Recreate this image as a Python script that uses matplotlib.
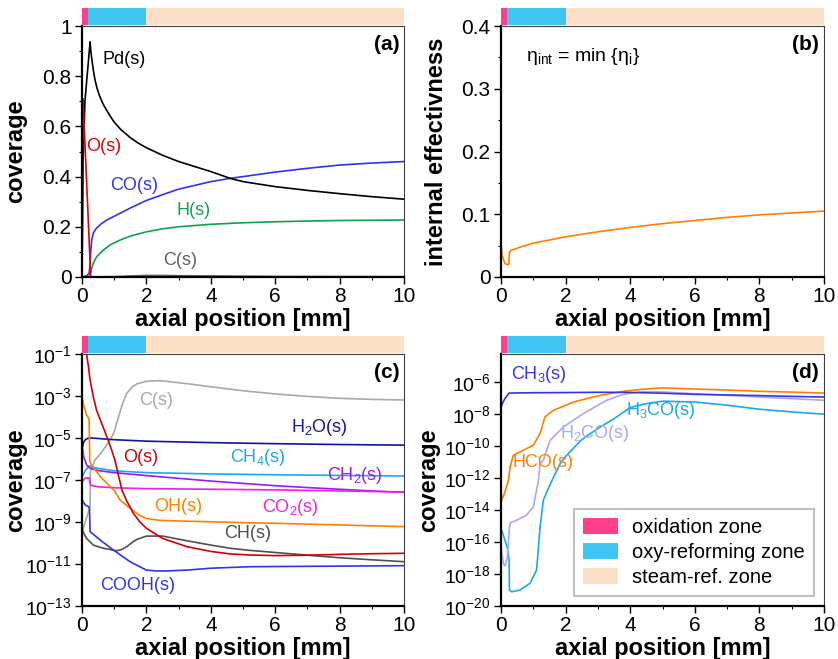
import numpy as np
import matplotlib
matplotlib.use("Agg")
import matplotlib.pyplot as plt
from matplotlib.patches import Patch
from matplotlib.ticker import MultipleLocator, FixedLocator, NullLocator, FuncFormatter

plt.rcParams["font.family"] = ["Liberation Sans", "DejaVu Sans"]
plt.rcParams["mathtext.fontset"] = "custom"
plt.rcParams["mathtext.rm"] = "Liberation Sans"
plt.rcParams["mathtext.it"] = "Liberation Sans"
plt.rcParams["mathtext.bf"] = "Liberation Sans:bold"

# reactor zones along the catalyst bed [mm]
zone_names = ["oxidation zone", "oxy-reforming zone", "steam-ref. zone"]
zone_edges = [0.0, 0.2, 2.0, 10.0]
zone_colors = ["#FF3F8A", "#40C4F2", "#FCE0C8"]

# (a) major surface species, linear coverage
x_pd = [0, 0.03, 0.09, 0.25, 0.27, 0.3, 0.35, 0.4, 0.47, 0.55, 0.65, 0.77, 0.9, 1.0, 1.2, 1.5, 1.75,
        2, 2.5, 3, 3.5, 4, 4.6, 5, 6, 7, 8, 9, 10]
y_pd = [0.0, 0.45, 0.70, 0.937, 0.905, 0.872, 0.825, 0.787, 0.75, 0.72, 0.69, 0.663, 0.636, 0.617,
        0.588, 0.555, 0.533, 0.515, 0.485, 0.46, 0.44, 0.42, 0.393, 0.38, 0.36, 0.345, 0.332,
        0.32, 0.31]
x_o = [0, 0.03, 0.27]
y_o = [0.0, 0.71, 0.0]
x_co = [0, 0.15, 0.22, 0.25, 0.27, 0.3, 0.35, 0.45, 0.6, 0.77, 1, 1.5, 2, 2.5, 3, 4, 4.6, 5, 6, 7, 8, 9, 10]
y_co = [0.0, 0.005, 0.015, 0.05, 0.1, 0.147, 0.175, 0.195, 0.212, 0.227, 0.242, 0.275, 0.305, 0.328,
        0.35, 0.38, 0.393, 0.40, 0.418, 0.433, 0.446, 0.454, 0.46]
x_h = [0, 0.23, 0.3, 0.35, 0.45, 0.66, 0.9, 1.18, 1.5, 2, 2.5, 3, 4, 5, 6, 7, 8, 9, 10]
y_h = [0.0, 0.0, 0.035, 0.055, 0.08, 0.107, 0.13, 0.147, 0.163, 0.18, 0.192, 0.2, 0.21, 0.216, 0.22,
       0.223, 0.225, 0.226, 0.227]
x_c = [0, 1, 1.5, 2, 2.5, 3, 4, 5, 6, 8, 10]
y_c = [0.0, 0.001, 0.004, 0.006, 0.006, 0.005, 0.004, 0.003, 0.002, 0.0015, 0.001]

# (b) internal effectiveness factor
x_eta = [0, 0.03, 0.08, 0.13, 0.2, 0.24, 0.26, 0.3, 0.5, 1, 1.5, 2, 3, 4, 5, 6, 7, 8, 9, 10]
y_eta = [0.054, 0.036, 0.027, 0.021, 0.02, 0.02, 0.039, 0.042, 0.046, 0.054, 0.059, 0.064, 0.072,
         0.079, 0.085, 0.09, 0.095, 0.099, 0.102, 0.105]

# (c) minor species, log10 of coverage
xc_c = [0, 0.1, 0.2, 0.25, 0.26, 0.4, 0.6, 0.87, 1.0, 1.13, 1.26, 1.39, 1.55, 1.7, 2.0, 2.4, 2.8,
        3.35, 4, 5, 6, 7, 8, 9, 10]
lc_c = [-9.5, -9.0, -8.5, -8.2, -6.6, -6.05, -5.7, -5.1, -4.7, -4.0, -3.35, -2.87, -2.58, -2.42,
        -2.3, -2.27, -2.33, -2.43, -2.56, -2.75, -2.9, -3.02, -3.11, -3.16, -3.19]
xc_h2o = [0, 0.05, 0.1, 0.2, 0.3, 1, 2, 4, 6, 8, 10]
lc_h2o = [-5.5, -5.2, -5.08, -5.0, -5.0, -5.08, -5.15, -5.22, -5.27, -5.31, -5.34]
xc_ch4 = [0, 0.1, 0.22, 0.4, 1, 2, 4, 6, 8, 10]
lc_ch4 = [-6.85, -6.55, -6.33, -6.42, -6.56, -6.65, -6.71, -6.75, -6.78, -6.81]
xc_ch2 = [0, 0.05, 0.15, 0.25, 0.5, 1, 2, 3, 4, 5, 6, 7, 8, 9, 10]
lc_ch2 = [-5.3, -5.9, -6.3, -6.44, -6.55, -6.65, -6.79, -6.92, -7.05, -7.16, -7.27, -7.36, -7.44,
          -7.52, -7.59]
xc_co2 = [0, 0.1, 0.22, 0.27, 0.5, 1, 2, 4, 6, 8, 10]
lc_co2 = [-7.1, -6.9, -6.9, -7.25, -7.32, -7.37, -7.41, -7.44, -7.47, -7.52, -7.57]
xc_oh = [0, 0.06, 0.14, 0.22, 0.24, 0.3, 0.57, 1.0, 1.18, 1.5, 1.75, 2.0, 2.4, 3, 4, 5, 6, 8, 10]
lc_oh = [-3.03, -3.5, -3.9, -4.1, -6.1, -6.3, -6.84, -7.5, -7.95, -8.35, -8.65, -8.83, -8.92,
         -8.95, -8.99, -9.03, -9.06, -9.14, -9.22]
xc_o = [0, 0.1, 0.14, 0.2, 0.25, 0.35, 0.45, 0.61, 0.77, 0.92, 1.02, 1.14, 1.24, 1.39, 1.6, 1.8,
        2.0, 2.5, 3.25, 4, 4.6, 5.2, 6, 7, 8, 9, 10]
lc_o = [-0.15, -0.5, -1.0, -1.6, -2.24, -3.03, -3.67, -4.3, -4.94, -5.57, -6.05, -6.84, -7.48,
        -8.0, -8.6, -9.0, -9.3, -9.78, -10.17, -10.4, -10.52, -10.57, -10.6, -10.58, -10.54,
        -10.51, -10.49]
xc_ch = [0, 0.14, 0.35, 0.66, 1.08, 1.25, 1.39, 1.55, 1.7, 2.0, 2.5, 3.25, 4, 4.6, 5.2, 6, 7, 8, 9, 10]
lc_ch = [-9.38, -9.78, -10.1, -10.25, -10.37, -10.3, -10.17, -9.98, -9.83, -9.67, -9.67, -9.89,
         -10.1, -10.25, -10.35, -10.45, -10.58, -10.7, -10.8, -10.89]
xc_cooh = [0, 0.1, 0.2, 0.23, 0.25, 0.6, 0.97, 1.49, 2.0, 2.3, 2.63, 3.25, 4, 5.2, 6, 8, 10]
lc_cooh = [-7.95, -8.19, -8.27, -8.3, -9.46, -9.9, -10.33, -10.89, -11.29, -11.33, -11.33, -11.29,
           -11.2, -11.13, -11.12, -11.1, -11.08]

# (d) CHxO intermediates, log10 of coverage
xd_ch3 = [0, 0.05, 0.12, 0.25, 1, 2, 3, 4, 5, 6, 7, 8, 9, 10]
ld_ch3 = [-7.6, -7.3, -7.04, -6.69, -6.67, -6.66, -6.64, -6.65, -6.7, -6.77, -6.81, -6.85, -6.9, -6.94]
xd_hco = [0, 0.12, 0.23, 0.28, 0.38, 0.69, 1.0, 1.1, 1.21, 1.36, 1.62, 2.24, 3.07, 3.79, 4.4, 5, 6,
          7, 8, 9, 10]
ld_hco = [-13.5, -12.87, -12.14, -11.3, -10.58, -10.26, -9.95, -9.6, -9.22, -8.18, -7.77, -7.25,
          -6.83, -6.58, -6.45, -6.37, -6.44, -6.5, -6.58, -6.63, -6.69]
xd_h2co = [0, 0.07, 0.12, 0.2, 0.26, 0.29, 0.49, 0.79, 1.0, 1.16, 1.21, 1.31, 1.52, 1.93, 2.55, 3.27,
           3.79, 4.4, 5, 6, 7, 8, 9, 10]
ld_h2co = [-16.3, -17.34, -17.5, -16.92, -15.05, -14.8, -14.63, -14.32, -13.8, -12.14, -11.1,
           -10.89, -9.64, -8.81, -7.97, -7.14, -6.77, -6.6, -6.62, -6.73, -6.83, -6.94, -7.04, -7.14]
xd_h3co = [0, 0.12, 0.2, 0.25, 0.26, 0.33, 0.59, 0.9, 1.1, 1.21, 1.31, 1.52, 1.83, 2.0, 2.5, 3, 3.5,
           4, 4.5, 5, 6, 7, 8, 9, 10]
ld_h3co = [-15.15, -15.88, -16.4, -17.1, -19.0, -19.11, -19.0, -18.58, -17.75, -15.05, -13.38,
           -12.4, -11.1, -10.65, -9.6, -8.9, -8.29, -7.6, -7.35, -7.2, -7.25, -7.45, -7.7, -7.87, -8.01]

BLACK = "#000000"
RED = "#E00000"
BLUE = "#3333EE"
GREEN = "#10A050"
ORANGE = "#FF8000"

fig = plt.figure(figsize=(8.38, 6.59), dpi=100)


def add_zone_bar(ax):
    pos = ax.get_position()
    bar = fig.add_axes([pos.x0, pos.y1 + 0.0015, pos.width, 0.026])
    for lo, hi, col in zip(zone_edges[:-1], zone_edges[1:], zone_colors):
        bar.axvspan(lo, hi, color=col, lw=0)
    bar.set_xlim(0, 10)
    bar.set_ylim(0, 1)
    bar.axis("off")


def style(ax, ylabel, label_x, letter):
    ax.set_xlim(0, 10)
    ax.xaxis.set_major_locator(MultipleLocator(2))
    ax.xaxis.set_minor_locator(MultipleLocator(1))
    for side in ("left", "bottom"):
        ax.spines[side].set_linewidth(1.6)
    for side in ("top", "right"):
        ax.spines[side].set_linewidth(0.8)
        ax.spines[side].set_color("#404040")
    ax.tick_params(which="major", length=5, width=1.0, labelsize=15, pad=2.5)
    ax.tick_params(which="minor", length=2.5, width=0.8)
    ax.set_xlabel("axial position [mm]", fontsize=17, fontweight="bold", labelpad=1)
    ax.set_ylabel(ylabel, fontsize=17, fontweight="bold")
    ax.yaxis.set_label_coords(label_x, 0.5)
    ax.text(0.985, 0.925, letter, transform=ax.transAxes, ha="right", va="center",
            fontsize=15, fontweight="bold")
    add_zone_bar(ax)


def log_axis(ax, lo, hi, top):
    ax.set_yscale("log")
    ax.set_ylim(10.0 ** lo, 10.0 ** top)
    ax.yaxis.set_major_locator(FixedLocator([10.0 ** e for e in range(lo, hi + 1, 2)]))
    ax.yaxis.set_minor_locator(NullLocator())
    ax.yaxis.set_major_formatter(FuncFormatter(lambda v, p: "$10^{%d}$" % round(np.log10(v))))


def tag(ax, x, y, s, color):
    ax.text(x, y, s, color=color, fontsize=13, va="center", ha="left")


# (a)
ax_a = fig.add_axes([0.0979, 0.5797, 0.3843, 0.3808])
ax_a.plot(x_c, y_c, color="#606060", lw=1.2)
ax_a.plot(x_h, y_h, color=GREEN, lw=1.2)
ax_a.plot(x_co, y_co, color=BLUE, lw=1.2)
ax_a.plot(x_pd, y_pd, color=BLACK, lw=1.2)
ax_a.plot(x_o, y_o, color=RED, lw=1.2)
ax_a.set_ylim(0, 1)
ax_a.yaxis.set_major_locator(MultipleLocator(0.2))
ax_a.yaxis.set_minor_locator(MultipleLocator(0.1))
ax_a.yaxis.set_major_formatter(FuncFormatter(lambda v, p: "%g" % round(v, 1)))
tag(ax_a, 0.62, 0.865, "Pd(s)", BLACK)
tag(ax_a, 0.13, 0.52, "O(s)", RED)
tag(ax_a, 0.86, 0.363, "CO(s)", BLUE)
tag(ax_a, 2.92, 0.264, "H(s)", GREEN)
tag(ax_a, 2.53, 0.065, "C(s)", "#606060")
style(ax_a, "coverage", -0.172, "(a)")

# (b)
ax_b = fig.add_axes([0.5979, 0.5797, 0.3854, 0.3808])
ax_b.plot(x_eta, y_eta, color=ORANGE, lw=1.2)
ax_b.set_ylim(0, 0.4)
ax_b.yaxis.set_major_locator(MultipleLocator(0.1))
ax_b.yaxis.set_minor_locator(MultipleLocator(0.05))
ax_b.yaxis.set_major_formatter(FuncFormatter(lambda v, p: "%g" % round(v, 1)))
ax_b.text(0.78, 0.351, "η$_{\\rm int}$ = min {η$_{\\rm i}$}", fontsize=14, va="center")
style(ax_b, "internal effectivness", -0.165, "(b)")

# (c)
ax_c = fig.add_axes([0.0979, 0.0804, 0.3843, 0.3824])
c_lines = [
    (xc_c, lc_c, "#A8A8A8"),
    (xc_h2o, lc_h2o, "#1414A0"),
    (xc_ch4, lc_ch4, "#1AA8F5"),
    (xc_ch2, lc_ch2, "#9A1AF0"),
    (xc_co2, lc_co2, "#F01EE6"),
    (xc_oh, lc_oh, ORANGE),
    (xc_ch, lc_ch, "#505050"),
    (xc_cooh, lc_cooh, BLUE),
    (xc_o, lc_o, "#D40000"),
]
for xs, ls, col in c_lines:
    ax_c.plot(xs, 10.0 ** np.array(ls), color=col, lw=1.2)
log_axis(ax_c, -13, -1, -1)
tag(ax_c, 1.76, 10 ** -3.19, "C(s)", "#A8A8A8")
tag(ax_c, 6.5, 10 ** -4.49, "H$_2$O(s)", "#1414A0")
tag(ax_c, 1.29, 10 ** -5.94, "O(s)", "#D40000")
tag(ax_c, 4.58, 10 ** -5.94, "CH$_4$(s)", "#1AA8F5")
tag(ax_c, 7.62, 10 ** -6.79, "CH$_2$(s)", "#9A1AF0")
tag(ax_c, 2.24, 10 ** -8.27, "OH(s)", ORANGE)
tag(ax_c, 5.6, 10 ** -8.32, "CO$_2$(s)", "#F01EE6")
tag(ax_c, 4.41, 10 ** -9.57, "CH(s)", "#505050")
tag(ax_c, 0.55, 10 ** -12.0, "COOH(s)", BLUE)
style(ax_c, "coverage", -0.172, "(c)")
ax_c.tick_params(axis="y", labelsize=14)

# (d)
ax_d = fig.add_axes([0.5979, 0.0804, 0.3854, 0.3824])
d_lines = [
    (xd_h3co, ld_h3co, "#1AA8F0"),
    (xd_h2co, ld_h2co, "#A8A8F8"),
    (xd_hco, ld_hco, ORANGE),
    (xd_ch3, ld_ch3, BLUE),
]
for xs, ls, col in d_lines:
    ax_d.plot(xs, 10.0 ** np.array(ls), color=col, lw=1.2)
log_axis(ax_d, -20, -6, -4.25)
tag(ax_d, 0.32, 10 ** -5.54, "CH$_3$(s)", BLUE)
tag(ax_d, 3.87, 10 ** -7.77, "H$_3$CO(s)", "#1AA8F0")
tag(ax_d, 1.84, 10 ** -9.22, "H$_2$CO(s)", "#A8A8F8")
tag(ax_d, 0.37, 10 ** -11.03, "HCO(s)", ORANGE)
handles = [Patch(facecolor=c, edgecolor="none") for c in zone_colors]
leg = ax_d.legend(handles, zone_names, loc="lower right", fontsize=14.5, frameon=True,
                  fancybox=False, handlelength=1.75, handleheight=0.85, handletextpad=0.7,
                  borderpad=0.45, labelspacing=0.3, borderaxespad=0.5)
leg.get_frame().set_edgecolor("#B0B0B0")
leg.get_frame().set_linewidth(1.5)
style(ax_d, "coverage", -0.19, "(d)")
ax_d.tick_params(axis="y", labelsize=14)

fig.savefig("out.png", dpi=100)
